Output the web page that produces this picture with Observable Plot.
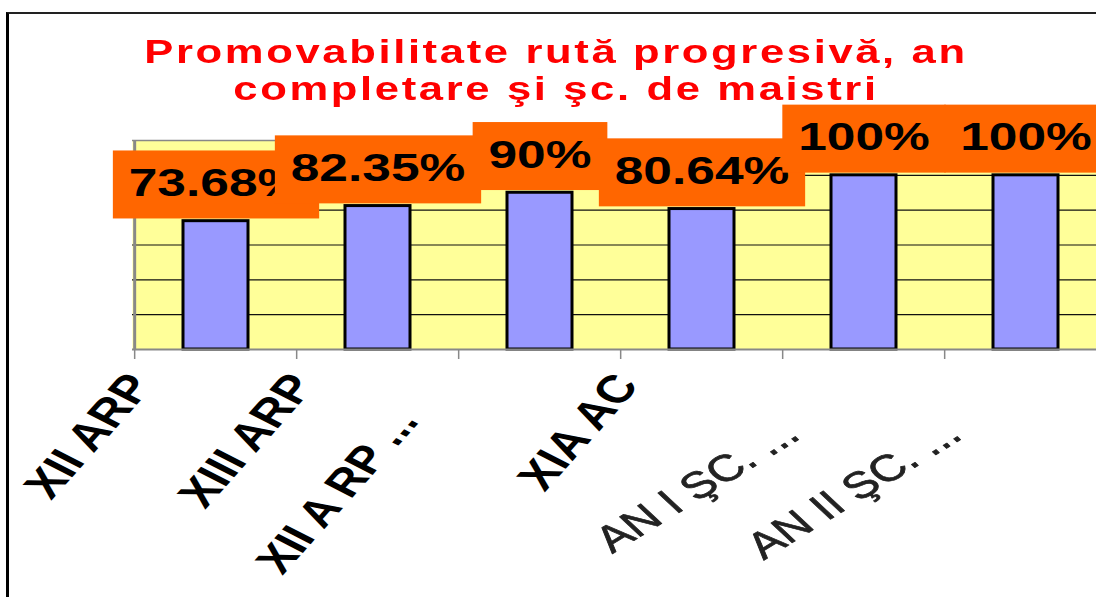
<!DOCTYPE html>
<html><head><meta charset="utf-8">
<script src="https://cdn.jsdelivr.net/npm/d3@7"></script>
<script src="https://cdn.jsdelivr.net/npm/@observablehq/plot@0.6"></script>
<style>
html,body{margin:0;padding:0;background:#fff;overflow:hidden;width:1096px;height:597px;}
#wrap{position:relative;width:1096px;height:597px;overflow:hidden;}
#border{position:absolute;left:6px;top:12px;width:1200px;height:700px;border-left:3px solid #000;border-top:2px solid #222;}
#title{position:absolute;left:0;top:33px;width:1112px;text-align:center;color:#ff0000;font:bold 33px "Liberation Sans",Arial,sans-serif;letter-spacing:2px;}
#title div{line-height:37px;transform:scaleX(1.32);transform-origin:50% 0;white-space:nowrap;}
#chart{position:absolute;left:0;top:0;width:1108px;}
</style></head><body>
<div id="wrap"><div id="border"></div><div id="title"><div>Promovabilitate rută progresivă, an</div><div>completare şi şc. de maistri</div></div><div id="chart"></div></div>
<script>
const categories = ["XII ARP", "XIII ARP", "XII A RP ...", "XIA AC", "AN I ŞC. ...", "AN II ŞC. ..."];
const values = [73.68, 82.35, 90, 80.64, 100, 100];
const valueLabels = ["73.68%", "82.35%", "90%", "80.64%", "100%", "100%"];
const yGrid = [20, 40, 60, 80, 100];
const yMax = 120;

const W = 1108, H = 597, ML = 132, MR = 0, MT = 140, MB = 248;
const step = (W - ML - MR) / categories.length;
const S = 1.32; // horizontal stretch of the original picture
const data = categories.map((c, i) => ({cat: c, val: values[i], label: valueLabels[i], i}));
const FONT = '"Liberation Sans", Arial, sans-serif';

const chart = Plot.plot({
  width: W, height: H, marginLeft: ML, marginRight: MR, marginTop: MT, marginBottom: MB,
  style: {background: "transparent", fontFamily: FONT, overflow: "visible"},
  x: {domain: categories, paddingInner: 0.6, paddingOuter: 0.3},
  y: {domain: [0, yMax], axis: null},
  marks: [
    Plot.frame({fill: "#FFFF99"}),
    Plot.ruleY(yGrid, {stroke: "#111", strokeWidth: 1.2}),
    Plot.ruleY([yMax], {stroke: "#888", strokeWidth: 1.5}),
    Plot.ruleX([categories[0]], {dx: -step / 2, stroke: "#888", strokeWidth: 3}),
    Plot.axisX({tickSize: 10, tickFormat: () => "", dx: -step / 2, stroke: "#888", strokeWidth: 1.5, label: null}),
    Plot.barY(data, {x: "cat", y: "val", fill: "#9999FF", stroke: "#000", strokeWidth: 3}),
    Plot.ruleY([0], {stroke: "#888", strokeWidth: 2}),
    Plot.text(data, {x: "cat", y: "val", text: "label", fontSize: 39, fontWeight: "bold", fill: "#000",
      lineAnchor: "bottom", dy: -25}),
    Plot.text(data.filter(d => [0, 1, 3].includes(d.i)), {x: "cat", frameAnchor: "bottom", text: "cat",
      rotate: -56, textAnchor: "end", lineAnchor: "bottom", fontSize: 39, fontWeight: "bold", fill: "#000",
      dx: -62, dy: 36}),
    Plot.text(data.filter(d => d.i === 2), {x: "cat", frameAnchor: "bottom", text: "cat",
      rotate: -56, textAnchor: "end", lineAnchor: "bottom", fontSize: 38, fontWeight: "bold", fill: "#000",
      dx: -120, dy: 72}),
    Plot.text(data.filter(d => d.i >= 4), {x: "cat", frameAnchor: "bottom", text: "cat",
      rotate: -39, textAnchor: "end", lineAnchor: "bottom", fontSize: 37, fontWeight: "normal", fill: "#222",
      stroke: "#222", strokeWidth: 0.7, dx: -62, dy: 88})
  ]
});
chart.style.maxWidth = "none";
document.getElementById("chart").append(chart);

const textGroups = chart.querySelectorAll(':scope > g[aria-label="text"]');
const [gValues, gA, gB, gC] = textGroups;

// orange label boxes + horizontal stretch of value labels
if (gValues) gValues.querySelectorAll("text").forEach(t => {
  const bb = t.getBBox();
  const cx = bb.x + bb.width / 2;
  const base = t.getAttribute("transform") || "";
  const tr = `${base} translate(${cx},0) scale(${S},1) translate(${-cx},0)`;
  t.setAttribute("transform", tr);
  const fs = 39, padX = 12;
  const baseline = bb.y + 0.905 * fs;
  const r = document.createElementNS("http://www.w3.org/2000/svg", "rect");
  r.setAttribute("x", bb.x - padX);
  r.setAttribute("width", bb.width + 2 * padX);
  r.setAttribute("y", baseline - 46);
  r.setAttribute("height", 68);
  r.setAttribute("fill", "#FF6600");
  r.setAttribute("stroke", "none");
  r.setAttribute("transform", tr);
  t.parentNode.insertBefore(r, t);
});
// stretch rotated category labels
[gA, gB, gC].forEach(g => g && g.querySelectorAll("text").forEach(t => {
  const tr = t.getAttribute("transform") || "";
  if (tr.includes("rotate(")) t.setAttribute("transform", tr.replace("rotate(", `scale(${S},1) rotate(`));
}));
if (gC) gC.style.filter = "blur(0.7px)";
</script>
</body></html>
